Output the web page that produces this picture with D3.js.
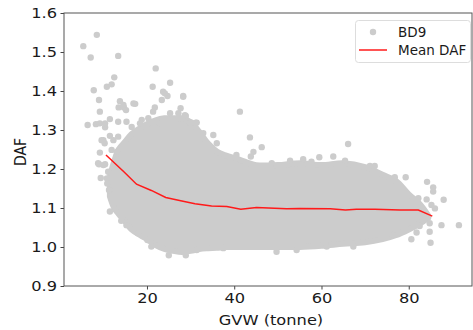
<!DOCTYPE html>
<html>
<head>
	<title></title>
	<style>
		body { margin: 0; background: #fff; }
		text { font-family: "DejaVu Sans", sans-serif; transform-box: fill-box; }
	</style>
</head>
<body>

<svg id="chart" width="473" height="330"></svg>

<script src="https://d3js.org/d3.v7.min.js"></script>
<script>
	// -------------------------------------------------------------
	// Values

	// dense part of the BD9 cloud: gvw, upper and lower edge
	const cloudGvw = [11.5, 12.5, 13.5, 15, 16.5, 18.5, 20, 22, 24, 26, 28, 30, 32, 34, 36, 38, 41, 45, 50, 55, 60, 65, 70, 74, 77, 80, 82.5, 84.5]
	const cloudTop = [1.18, 1.22, 1.25, 1.27, 1.29, 1.305, 1.315, 1.325, 1.33, 1.33, 1.33, 1.32, 1.295, 1.265, 1.245, 1.235, 1.225, 1.21, 1.21, 1.215, 1.21, 1.215, 1.205, 1.185, 1.17, 1.135, 1.11, 1.08]
	const cloudBottom = [1.13, 1.10, 1.085, 1.065, 1.045, 1.03, 1.02, 1.005, 0.995, 0.99, 0.987, 0.99, 0.995, 0.997, 0.998, 1.0, 1.0, 1.0, 1.0, 1.0, 1.003, 1.008, 1.012, 1.02, 1.03, 1.045, 1.06, 1.075]

	// single BD9 points outside the dense part
	const pointGvw = [5.4, 8.5, 7.1, 13.4, 22.0, 7.8, 10.8, 11.9, 12.5, 21.3, 25.3, 23.7, 24.7, 28.3, 9.0, 13.8, 17.3, 9.2, 13.5, 14.7,
		21.8, 27.7, 41.3, 11.5, 6.4, 8.3, 9.2, 10.4, 13.4, 28.9, 30.2, 31.4, 9.6, 11.5, 13.4, 43.6, 9.2, 9.0, 10.4, 44.4,
		43.8, 10.9, 11.3, 11.5, 14.1, 15.3, 17.9, 20.1, 21.0, 25.0, 28.9, 10.3, 9.4, 46.3, 40.5, 48.6, 52.8, 55.8, 57.7, 59.5,
		31.2, 32.9, 35.2, 36.0, 49.7, 52.0, 54.3, 37.5, 31.4, 61.2, 66.1, 62.7, 65.4, 71.1, 72.2, 76.8, 79.3, 84.2, 85.6, 85.6,
		88.0, 79.9, 82.2, 84.1, 85.2, 86.0, 87.5, 91.5, 84.8, 84.8, 82.5, 81.8, 80.6, 85.0, 76.4, 67.3,
		10.4, 14.6, 16.9, 15.2, 15.3, 10.0, 12.3, 13.1, 11.9, 8.8, 10.0, 11.1, 10.8, 21.4, 18.8, 20.3, 23.0, 25.3, 27.2, 28.7,
		29.9, 24.1, 28.3, 23.4, 18.4, 16.5]
	const pointDaf = [1.515, 1.544, 1.486, 1.490, 1.458, 1.402, 1.411, 1.417, 1.435, 1.411, 1.421, 1.398, 1.387, 1.387, 1.377, 1.374, 1.367, 1.347, 1.358, 1.358,
		1.358, 1.356, 1.347, 1.328, 1.313, 1.315, 1.317, 1.307, 1.321, 1.336, 1.319, 1.319, 1.274, 1.285, 1.283, 1.281, 1.242, 1.212, 1.212, 1.244,
		1.232, 1.163, 1.146, 1.091, 1.067, 1.056, 1.035, 1.018, 1.001, 0.979, 0.979, 1.266, 1.177, 1.256, 1.236, 1.215, 1.221, 1.225, 1.219, 1.230,
		1.319, 1.292, 1.287, 1.266, 0.988, 1.001, 0.992, 0.997, 0.992, 1.001, 1.264, 1.232, 1.221, 1.208, 1.208, 1.179, 1.179, 1.167, 1.153, 1.142,
		1.121, 1.131, 1.125, 1.122, 1.108, 1.099, 1.056, 1.056, 1.061, 1.039, 1.054, 1.037, 1.020, 1.011, 1.031, 1.001,
		1.317, 1.364, 1.368, 1.351, 1.321, 1.274, 1.274, 1.244, 1.249, 1.215, 1.210, 1.193, 1.176, 1.347, 1.326, 1.330, 1.317, 1.343, 1.343, 1.338,
		1.317, 1.394, 1.385, 1.377, 1.317, 1.308]

	// mean DAF line
	const meanGvw = [10.6, 14.7, 17.6, 21, 24.3, 28, 31, 34.8, 38.3, 41.5, 45.1, 52, 55, 62, 65.5, 68, 72.2, 78, 82.2, 85.4]
	const meanDaf = [1.236, 1.193, 1.161, 1.145, 1.127, 1.118, 1.111, 1.105, 1.104, 1.097, 1.101, 1.098, 1.099, 1.098, 1.095, 1.097, 1.097, 1.095, 1.095, 1.079]

	const xTicks = [20, 40, 60, 80]
	const yTicks = [0.9, 1.0, 1.1, 1.2, 1.3, 1.4, 1.5, 1.6]
	const legendLabels = ['BD9', 'Mean DAF']

	// -------------------------------------------------------------

	const plotLeft = 64, plotRight = 472, plotTop = 13, plotBottom = 286
	const gray = '#cccccc'
	const ink = '#1a1a1a'
	const stretch = 'scaleX(1.16)' // axis texts are a bit wider than they are tall

	const x = d3.scaleLinear().domain([0.98, 94.5]).range([plotLeft, plotRight])
	const y = d3.scaleLinear().domain([0.9, 1.6]).range([plotBottom, plotTop])

	const svg = d3.select('#chart')

	// dense cloud as one shape
	const cloud = d3.area()
		.x(i => x(cloudGvw[i]))
		.y0(i => y(cloudBottom[i]))
		.y1(i => y(cloudTop[i]))
		.curve(d3.curveCatmullRom)

	svg.append('path')
		.datum(d3.range(cloudGvw.length))
		.attr('d', cloud)
		.attr('fill', gray)
		.attr('stroke', gray)
		.attr('stroke-width', 6)
		.attr('stroke-linejoin', 'round')

	svg.append('g')
		.selectAll('circle')
		.data(pointGvw)
		.enter()
		.append('circle')
		.attr('cx', d => x(d))
		.attr('cy', (d, i) => y(pointDaf[i]))
		.attr('r', 3.2)
		.attr('fill', gray)

	// mean line
	const line = d3.line()
		.x(i => x(meanGvw[i]))
		.y(i => y(meanDaf[i]))

	svg.append('path')
		.datum(d3.range(meanGvw.length))
		.attr('d', line)
		.attr('fill', 'none')
		.attr('stroke', '#ff1a1a')
		.attr('stroke-width', 1.5)

	// axes
	const xAxis = svg.append('g')
		.attr('transform', `translate(0,${plotBottom})`)
		.call(d3.axisBottom(x).tickValues(xTicks).tickSize(3.5).tickPadding(4))
	const yAxis = svg.append('g')
		.attr('transform', `translate(${plotLeft},0)`)
		.call(d3.axisLeft(y).tickValues(yTicks).tickFormat(d3.format('.1f')).tickSize(3.5).tickPadding(3.5))

	;[xAxis, yAxis].forEach(a => {
		a.select('.domain').remove()
		a.selectAll('line').attr('stroke', '#444')
		a.selectAll('text').attr('font-size', 14).attr('fill', ink)
			.style('font-family', '"DejaVu Sans", sans-serif')
			.style('transform', stretch)
	})
	xAxis.selectAll('text').style('transform-origin', 'center')
	yAxis.selectAll('text').style('transform-origin', 'right center')

	// frame
	svg.append('rect')
		.attr('x', plotLeft).attr('y', plotTop)
		.attr('width', plotRight - plotLeft).attr('height', plotBottom - plotTop)
		.attr('fill', 'none')
		.attr('stroke', '#555')
		.attr('stroke-width', 1)

	svg.append('text')
		.attr('x', (plotLeft + plotRight) / 2 + 3)
		.attr('y', 325)
		.attr('text-anchor', 'middle')
		.attr('font-size', 14)
		.attr('fill', ink)
		.style('transform-origin', 'center')
		.style('transform', stretch)
		.text('GVW (tonne)')

	// rotated label: the stretch goes across the letters
	svg.append('g')
		.attr('transform', 'translate(26,152) rotate(-90) scale(1,1.16)')
		.append('text')
		.attr('text-anchor', 'middle')
		.attr('font-size', 14)
		.attr('fill', ink)
		.text('DAF')

	// legend
	const legend = svg.append('g')
	legend.append('rect')
		.attr('x', 355.5).attr('y', 20.5)
		.attr('width', 115).attr('height', 42)
		.attr('rx', 3)
		.attr('fill', 'rgba(255,255,255,0.8)')
		.attr('stroke', '#dddddd')
	legend.append('circle')
		.attr('cx', 373).attr('cy', 32).attr('r', 3.2)
		.attr('fill', gray)
	legend.append('line')
		.attr('x1', 359).attr('x2', 387)
		.attr('y1', 50).attr('y2', 50)
		.attr('stroke', '#ff1a1a').attr('stroke-width', 1.5)
	legend.selectAll('text.lab')
		.data(legendLabels)
		.enter()
		.append('text')
		.attr('class', 'lab')
		.attr('x', 398)
		.attr('y', (d, i) => 36.5 + i * 18)
		.attr('font-size', 13.5)
		.attr('fill', ink)
		.text(d => d)
</script>
</body>
</html>
